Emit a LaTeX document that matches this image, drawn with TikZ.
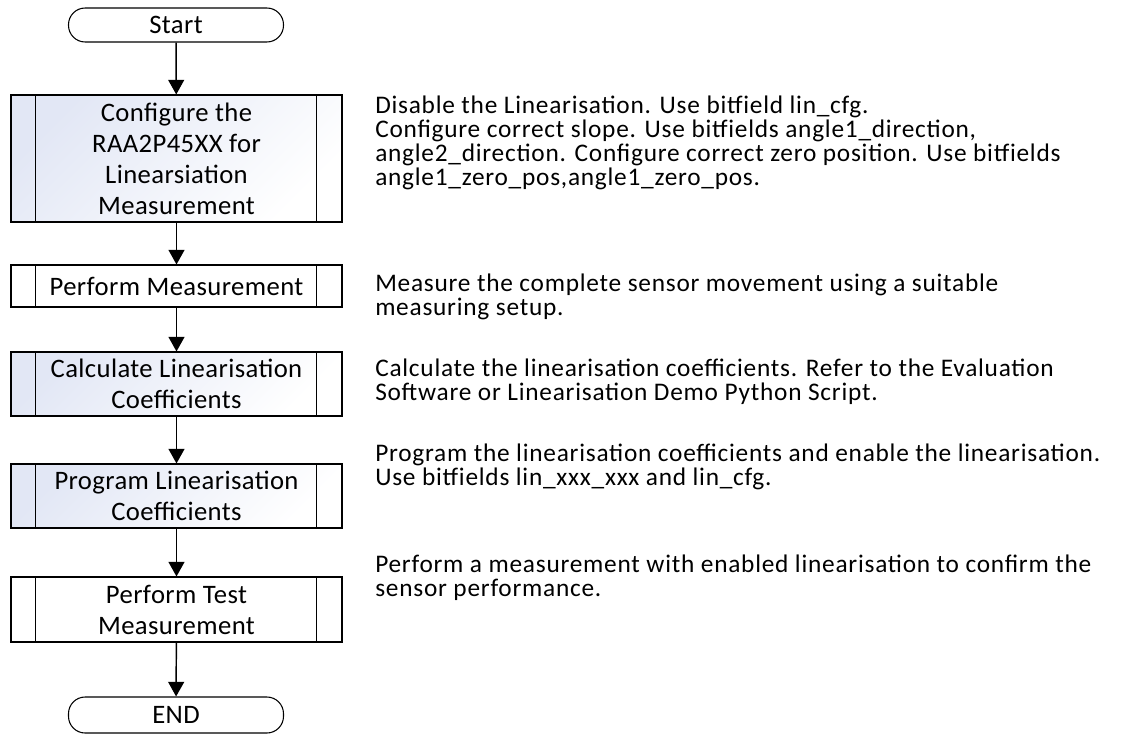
\documentclass[tikz,border=0pt]{standalone}
\usepackage{fontspec}
\setmainfont{Carlito}
\newfontfamily\descfont[LetterSpace=3.0]{Carlito}
\newfontfamily\boxfont[LetterSpace=1.5]{Carlito}
\usetikzlibrary{arrows.meta}
\definecolor{boxshade}{RGB}{226,231,245}
\begin{document}
\begin{tikzpicture}[x=0.75pt,y=-0.75pt,
  procbox/.style={draw=black, line width=0.8pt, minimum width=248.25pt, align=center, inner sep=0pt,
    font=\boxfont\fontsize{20pt}{23.25pt}\selectfont},
  shadedbox/.style={procbox, left color=boxshade, right color=white, shading angle=45},
  plainbox/.style={procbox, fill=white},
  terminal/.style={draw=black, line width=0.8pt, rounded corners=12.5pt, minimum width=161.25pt, minimum height=25.5pt,
    inner sep=0pt, font=\boxfont\fontsize{20pt}{23.25pt}\selectfont},
  desc/.style={anchor=west, align=left, inner sep=0pt, font=\descfont\fontsize{19pt}{18pt}\selectfont},
  arr/.style={draw=black, line width=1.1pt, -{Triangle[length=11pt,width=12pt]}}
]
\useasboundingbox[fill=white] (0,0) rectangle (1123,738);

\node[terminal] (start) at (176,25) {Start};
\node[shadedbox, minimum height=95.25pt] (b1) at (176.5,158.5) {Configure the\\RAA2P45XX for\\Linearsiation\\Measurement};
\node[plainbox, minimum height=31.5pt] (b2) at (176.5,286) {Perform Measurement};
\node[shadedbox, minimum height=48pt] (b3) at (176.5,384) {Calculate Linearisation\\Coefficients};
\node[shadedbox, minimum height=48pt] (b4) at (176.5,496) {Program Linearisation\\Coefficients};
\node[plainbox, minimum height=48.75pt] (b5) at (176.5,609.5) {Perform Test\\Measurement};
\node[terminal, minimum height=27pt] (stop) at (176,715) {END};

\foreach \b in {b1,b2,b3,b4,b5}{
  \draw[line width=0.8pt] ([xshift=18.75pt]\b.north west) -- ([xshift=18.75pt]\b.south west);
  \draw[line width=0.8pt] ([xshift=-19.5pt]\b.north east) -- ([xshift=-19.5pt]\b.south east);
}

\draw[arr] (start) -- (b1);
\draw[arr] (b1) -- (b2);
\draw[arr] (b2) -- (b3);
\draw[arr] (b3) -- (b4);
\draw[arr] (b4) -- (b5);
\draw[arr] (b5) -- (stop);

\node[desc] (t1) at (375,142.5) {Disable the Linearisation. Use bitfield lin\_cfg.\\Configure correct slope. Use bitfields angle1\_direction,\\angle2\_direction. Configure correct zero position. Use bitfields\\angle1\_zero\_pos,angle1\_zero\_pos.};
\node[desc] (t2) at (375,296.5) {Measure the complete sensor movement using a suitable\\measuring setup.};
\node[desc] (t3) at (375,382) {Calculate the linearisation coefficients. Refer to the Evaluation\\Software or Linearisation Demo Python Script.};
\node[desc] (t4) at (375,467) {Program the linearisation coefficients and enable the linearisation.\\Use bitfields lin\_xxx\_xxx and lin\_cfg.};
\node[desc] (t5) at (375,578) {Perform a measurement with enabled linearisation to confirm the\\sensor performance.};
\end{tikzpicture}
\end{document}
